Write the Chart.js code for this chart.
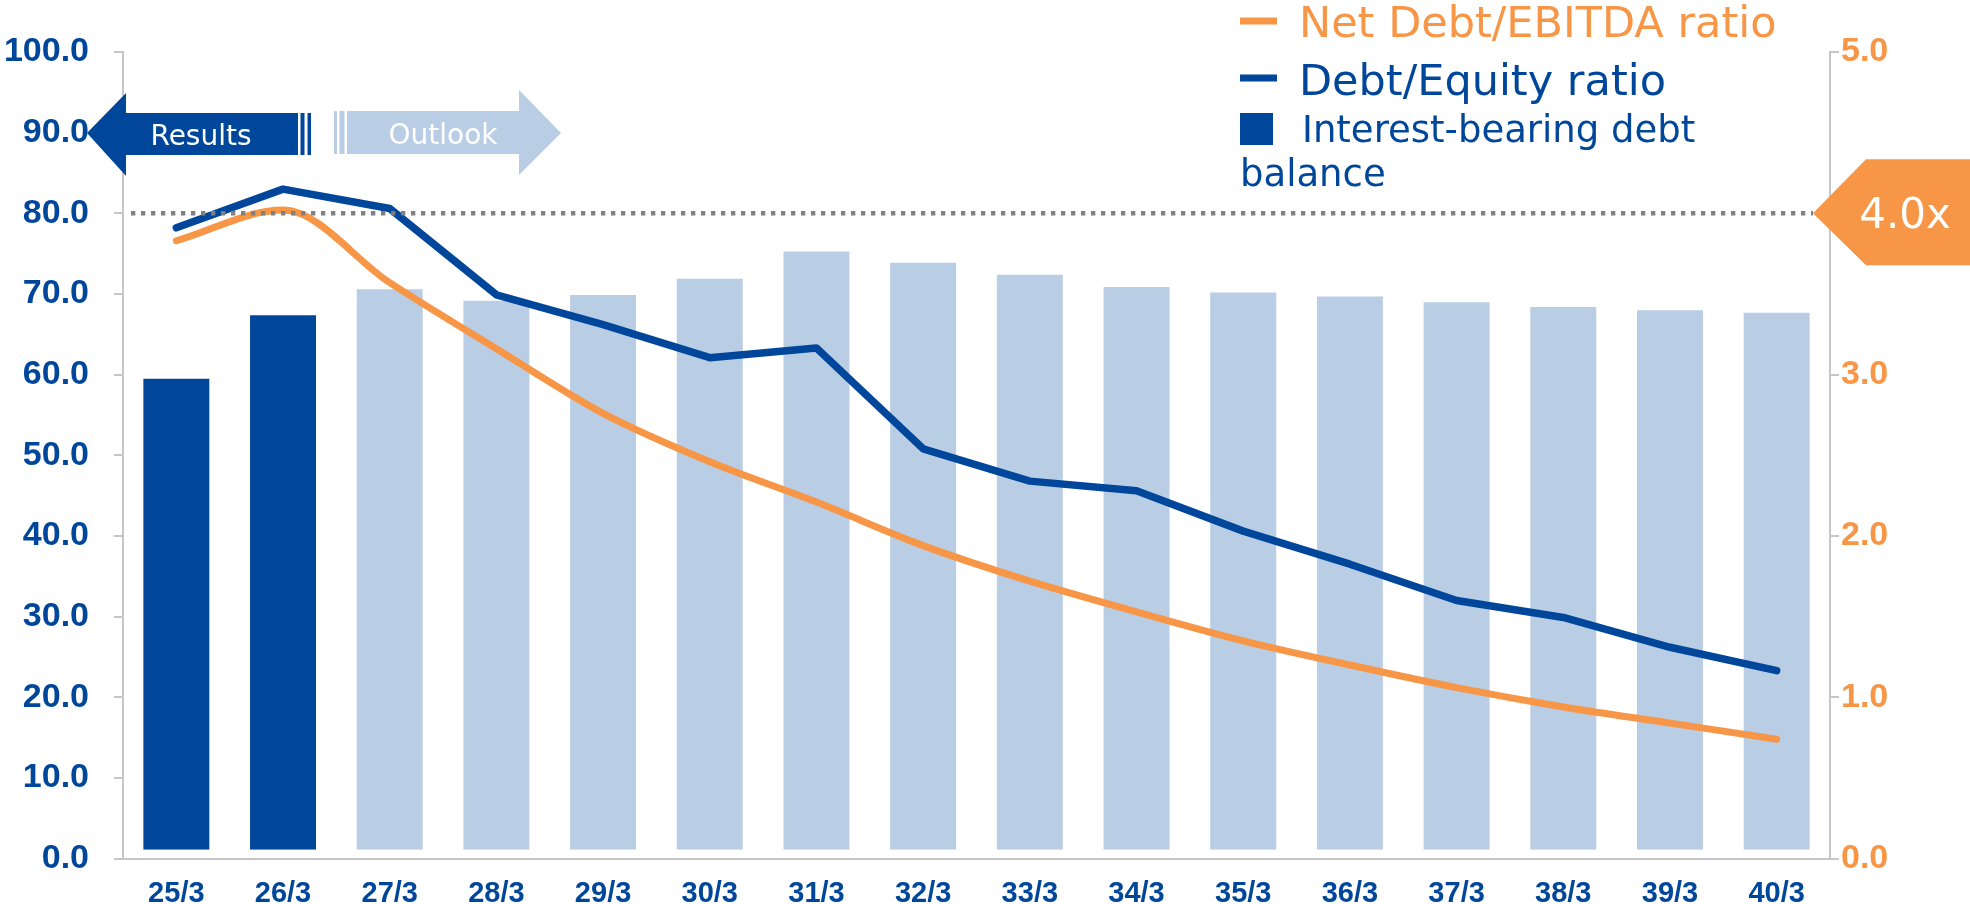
<!DOCTYPE html>
<html>
<head>
<meta charset="utf-8">
<script src="https://cdn.jsdelivr.net/npm/chart.js@4.4.1/dist/chart.umd.min.js"></script>
<style>
html, body { margin: 0; padding: 0; background: #fff; }
#wrap { width: 1970px; height: 904px; }
</style>
</head>
<body>
<div id="wrap"><canvas id="debtChart" width="1970" height="904"></canvas></div>
<script>
// fiscal years (March year end)
const labels = ['25/3', '26/3', '27/3', '28/3', '29/3', '30/3', '31/3', '32/3',
                '33/3', '34/3', '35/3', '36/3', '37/3', '38/3', '39/3', '40/3'];
// first two years are results, the rest outlook
const resultCount = 2;

// Interest-bearing debt balance (left axis)
const debtBalance = [59.6, 67.5, 70.7, 69.3, 70.0, 72.0, 75.4, 74.0,
                     72.5, 71.0, 70.3, 69.8, 69.1, 68.5, 68.1, 67.8];
// Debt/Equity ratio (left axis)
const debtEquity = [78.2, 83.0, 80.6, 69.9, 66.2, 62.1, 63.3, 50.8,
                    46.8, 45.6, 40.6, 36.5, 32.0, 29.9, 26.2, 23.3];
// Net Debt/EBITDA ratio (right axis)
const netDebtEbitda = [3.83, 4.02, 3.57, 3.16, 2.76, 2.46, 2.21, 1.94,
                       1.72, 1.53, 1.35, 1.20, 1.06, 0.94, 0.84, 0.74];

// axis ranges
const leftMax = 100, leftStep = 10;
const rightMax = 5, rightStep = 1;
const ebitdaTarget = 4.0;

const DARK = '#00479B';
const LIGHT = '#B9CDE5';
const ORANGE = '#F79646';
const AXIS = '#C6C6C6';
const UI_FONT = '"DejaVu Sans", sans-serif';
const TICK_FONT = '"Liberation Sans", Arial, sans-serif';

const barColors = labels.map((_, i) => i < resultCount ? DARK : LIGHT);

// dotted target line, arrows, legend and the 4.0x badge
const overlay = {
    id: 'overlay',
    afterDatasetsDraw(chart) {
        const ctx = chart.ctx;
        const area = chart.chartArea;
        const y = chart.scales.y1.getPixelForValue(ebitdaTarget);
        ctx.save();
        ctx.strokeStyle = '#808080';
        ctx.lineWidth = 4.5;
        ctx.setLineDash([4.3, 5.7]);
        ctx.beginPath();
        ctx.moveTo(area.left + 8, y);
        ctx.lineTo(area.right - 17, y);
        ctx.stroke();
        ctx.restore();
    },
    afterDraw(chart) {
        const ctx = chart.ctx;
        const area = chart.chartArea;
        const ty = chart.scales.y1.getPixelForValue(ebitdaTarget);
        ctx.save();

        // Results arrow (points left)
        ctx.fillStyle = DARK;
        ctx.beginPath();
        ctx.moveTo(87, 133);
        ctx.lineTo(126, 93);
        ctx.lineTo(126, 113);
        ctx.lineTo(298, 113);
        ctx.lineTo(298, 155);
        ctx.lineTo(126, 155);
        ctx.lineTo(126, 176);
        ctx.closePath();
        ctx.fill();
        ctx.fillRect(300.5, 113, 4, 42);
        ctx.fillRect(307.5, 113, 3.5, 42);

        // Outlook arrow (points right)
        ctx.fillStyle = LIGHT;
        ctx.fillRect(334, 111, 3, 43);
        ctx.fillRect(339.5, 111, 5, 43);
        ctx.beginPath();
        ctx.moveTo(347, 111);
        ctx.lineTo(519, 111);
        ctx.lineTo(519, 90);
        ctx.lineTo(561, 133);
        ctx.lineTo(519, 175);
        ctx.lineTo(519, 154);
        ctx.lineTo(347, 154);
        ctx.closePath();
        ctx.fill();

        ctx.fillStyle = '#fff';
        ctx.font = '28px ' + UI_FONT;
        ctx.textAlign = 'center';
        ctx.textBaseline = 'alphabetic';
        ctx.fillText('Results', 201, 145);
        ctx.fillText('Outlook', 443, 144);

        // legend
        ctx.textAlign = 'left';
        ctx.fillStyle = ORANGE;
        ctx.fillRect(1240, 17.5, 37, 7);
        ctx.font = '43px ' + UI_FONT;
        ctx.fillText('Net Debt/EBITDA ratio', 1299, 37);
        ctx.fillStyle = DARK;
        ctx.fillRect(1240, 74.5, 37, 7);
        ctx.fillText('Debt/Equity ratio', 1299, 95);
        ctx.fillRect(1240, 113, 33, 32);
        ctx.font = '37px ' + UI_FONT;
        ctx.fillText('Interest-bearing debt', 1302, 142);
        ctx.fillText('balance', 1240, 186);

        // 4.0x badge on the right axis
        const tipX = area.right - 17;
        ctx.fillStyle = ORANGE;
        ctx.beginPath();
        ctx.moveTo(tipX, ty);
        ctx.lineTo(tipX + 53, ty - 54);
        ctx.lineTo(chart.width, ty - 54);
        ctx.lineTo(chart.width, ty + 52);
        ctx.lineTo(tipX + 53, ty + 52);
        ctx.closePath();
        ctx.fill();
        ctx.fillStyle = '#fff';
        ctx.font = '42px ' + UI_FONT;
        ctx.textAlign = 'center';
        ctx.fillText(ebitdaTarget.toFixed(1) + 'x', 1905, ty + 15);

        ctx.restore();
    }
};

new Chart(document.getElementById('debtChart'), {
    data: {
        labels: labels,
        datasets: [
            {
                type: 'line',
                label: 'Net Debt/EBITDA ratio',
                data: netDebtEbitda,
                yAxisID: 'y1',
                borderColor: ORANGE,
                borderWidth: 7,
                borderCapStyle: 'round',
                cubicInterpolationMode: 'monotone',
                pointRadius: 0,
                order: 1
            },
            {
                type: 'line',
                label: 'Debt/Equity ratio',
                data: debtEquity,
                yAxisID: 'y',
                borderColor: DARK,
                borderWidth: 7.5,
                borderCapStyle: 'round',
                borderJoinStyle: 'round',
                tension: 0,
                pointRadius: 0,
                order: 2
            },
            {
                type: 'bar',
                label: 'Interest-bearing debt balance',
                data: debtBalance,
                yAxisID: 'y',
                backgroundColor: barColors,
                borderColor: 'rgba(255,255,255,0.35)',
                borderWidth: 1,
                base: 1.1,
                barPercentage: 0.637,
                categoryPercentage: 1.0,
                order: 3
            }
        ]
    },
    options: {
        responsive: false,
        animation: false,
        devicePixelRatio: 1,
        layout: { padding: { top: 52, left: 0, right: 0, bottom: 0 } },
        plugins: {
            legend: { display: false },
            tooltip: { enabled: false }
        },
        scales: {
            x: {
                grid: { display: false },
                border: { display: true, color: AXIS, width: 2 },
                ticks: {
                    color: DARK,
                    font: { family: TICK_FONT, size: 29, weight: 'bold' },
                    padding: 10,
                    maxRotation: 0,
                    autoSkip: false
                },
                afterFit: scale => { scale.height = 44; }
            },
            y: {
                position: 'left',
                min: 0,
                max: leftMax,
                ticks: {
                    stepSize: leftStep,
                    color: DARK,
                    font: { family: TICK_FONT, size: 34, weight: 'bold' },
                    padding: 25,
                    callback: v => v.toFixed(1)
                },
                grid: { drawOnChartArea: false, color: AXIS, lineWidth: 2, tickLength: 9 },
                border: { display: true, color: AXIS, width: 2 },
                afterFit: scale => { scale.width = 123; }
            },
            y1: {
                position: 'right',
                min: 0,
                max: rightMax,
                ticks: {
                    stepSize: rightStep,
                    color: ORANGE,
                    font: { family: TICK_FONT, size: 34, weight: 'bold' },
                    padding: 2,
                    callback: v => v.toFixed(1)
                },
                grid: { drawOnChartArea: false, color: AXIS, lineWidth: 2, tickLength: 9 },
                border: { display: true, color: AXIS, width: 2 },
                afterFit: scale => { scale.width = 140; }
            }
        }
    },
    plugins: [overlay]
});
</script>
</body>
</html>
